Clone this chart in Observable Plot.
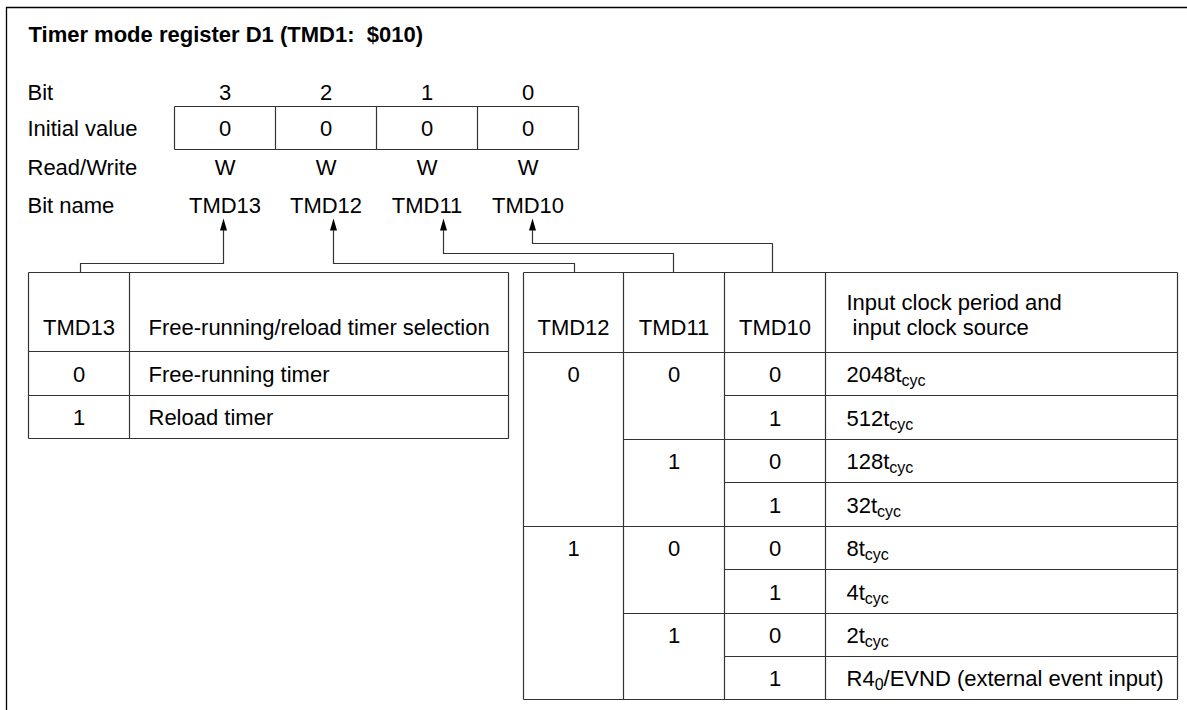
<!DOCTYPE html>
<html>
<head>
<meta charset="utf-8">
<script src="https://cdn.jsdelivr.net/npm/d3@7"></script>
<script src="https://cdn.jsdelivr.net/npm/@observablehq/plot@0.6"></script>
<style>
  html, body { margin: 0; padding: 0; background: #fff; }
  #chart svg text { white-space: pre; }
</style>
</head>
<body>
<div id="chart"></div>
<script>
// ---------------- data ----------------
const title = "Timer mode register D1 (TMD1:  $010)";
const rowLabels = ["Bit", "Initial value", "Read/Write", "Bit name"];
const bitNumbers = [3, 2, 1, 0];
const initialValues = [0, 0, 0, 0];
const readWrite = ["W", "W", "W", "W"];
const bitNames = ["TMD13", "TMD12", "TMD11", "TMD10"];

const tmd13Header = ["TMD13", "Free-running/reload timer selection"];
const tmd13Values = [0, 1];
const tmd13Meaning = ["Free-running timer", "Reload timer"];

const clockHeader = ["TMD12", "TMD11", "TMD10"];
const clockHeaderText = ["Input clock period and", " input clock source"];
const tmd12Values = [0, 0, 0, 0, 1, 1, 1, 1];
const tmd11Values = [0, 0, 1, 1, 0, 0, 1, 1];
const tmd10Values = [0, 1, 0, 1, 0, 1, 0, 1];
const clockSources = [
  "2048t_{cyc}", "512t_{cyc}", "128t_{cyc}", "32t_{cyc}",
  "8t_{cyc}", "4t_{cyc}", "2t_{cyc}", "R4_{0}/EVND (external event input)"
];

// ---------------- layout ----------------
const W = 1187, H = 710;
const L = {
  frameX: 6, frameY: 7,
  titleX: 28, titleY: 34,
  labelX: 27,
  rowY: [92, 128, 167, 205],
  boxX: [174, 275, 376, 477, 578], boxTop: 106, boxBottom: 149,
  arrowX: [223, 333, 443, 532], arrowTipY: 218, arrowLen: 12, arrowR: 3.5,
  elbowY: [263, 263, 253, 243],
  connectX: [80, 574, 673, 772],
  tableTop: 272,
  leftCols: [28, 129, 508], leftRows: [351, 395, 438],
  rightCols: [523, 623, 724, 825, 1177],
  rightRows: [352, 395, 439, 482, 526, 569, 613, 656, 699],
  headerY: 327, header2Y: 302,
  leftTextX: 148, rightTextX: 846,
  fontSize: 22, subSize: 16, subShift: 4
};
const lineColor = "#333";
const font = "'Liberation Sans', Arial, Helvetica, sans-serif";

// ---------------- derived mark data ----------------
const colCenter = i => (L.boxX[i] + L.boxX[i + 1]) / 2;
const startTexts = [];
const midTexts = [];

rowLabels.forEach((t, i) => startTexts.push({x: L.labelX, y: L.rowY[i], t}));
bitNumbers.forEach((v, i) => midTexts.push({x: colCenter(i), y: L.rowY[0], t: String(v)}));
initialValues.forEach((v, i) => midTexts.push({x: colCenter(i), y: L.rowY[1], t: String(v)}));
readWrite.forEach((v, i) => midTexts.push({x: colCenter(i), y: L.rowY[2], t: v}));
bitNames.forEach((v, i) => midTexts.push({x: colCenter(i), y: L.rowY[3], t: v}));

// left table
const lc = L.leftCols, lr = [L.tableTop, ...L.leftRows];
midTexts.push({x: (lc[0] + lc[1]) / 2, y: L.headerY, t: tmd13Header[0]});
startTexts.push({x: L.leftTextX, y: L.headerY, t: tmd13Header[1]});
tmd13Values.forEach((v, i) => {
  const yc = (lr[i + 1] + lr[i + 2]) / 2 + 1;
  midTexts.push({x: (lc[0] + lc[1]) / 2, y: yc, t: String(v)});
  startTexts.push({x: L.leftTextX, y: yc, t: tmd13Meaning[i]});
});

// right table
const rc = L.rightCols, rr = [L.tableTop, ...L.rightRows];
clockHeader.forEach((t, i) => midTexts.push({x: (rc[i] + rc[i + 1]) / 2, y: L.headerY, t}));
startTexts.push({x: L.rightTextX, y: L.header2Y, t: clockHeaderText[0]});
startTexts.push({x: L.rightTextX, y: L.headerY, t: clockHeaderText[1]});
const cols = [tmd12Values, tmd11Values, tmd10Values];
const segs = [];
clockSources.forEach((s, r) => {
  const yc = (rr[r + 1] + rr[r + 2]) / 2 + 1;
  let start = 2;
  for (let c = 0; c < 3; c++) {
    if (r === 0 || cols.slice(0, c + 1).some(col => col[r] !== col[r - 1])) { start = c; break; }
  }
  for (let c = start; c < 3; c++) midTexts.push({x: (rc[c] + rc[c + 1]) / 2, y: yc, t: String(cols[c][r])});
  startTexts.push({x: L.rightTextX, y: yc, t: s});
  if (r > 0) segs.push({x1: rc[start], x2: rc[4], y1: rr[r + 1], y2: rr[r + 1]});
});
segs.push({x1: rc[0], x2: rc[4], y1: rr[0], y2: rr[0]});
segs.push({x1: rc[0], x2: rc[4], y1: rr[1], y2: rr[1]});
segs.push({x1: rc[0], x2: rc[4], y1: rr[rr.length - 1], y2: rr[rr.length - 1]});
rc.forEach(x => segs.push({x1: x, x2: x, y1: rr[0], y2: rr[rr.length - 1]}));
lr.forEach(y => segs.push({x1: lc[0], x2: lc[2], y1: y, y2: y}));
lc.forEach(x => segs.push({x1: x, x2: x, y1: lr[0], y2: lr[lr.length - 1]}));
segs.push({x1: L.boxX[0], x2: L.boxX[4], y1: L.boxTop, y2: L.boxTop});
segs.push({x1: L.boxX[0], x2: L.boxX[4], y1: L.boxBottom, y2: L.boxBottom});
L.boxX.forEach(x => segs.push({x1: x, x2: x, y1: L.boxTop, y2: L.boxBottom}));

// connectors from tables to bit names
const paths = [];
bitNames.forEach((n, i) => {
  paths.push({id: n, x: L.connectX[i], y: L.tableTop});
  paths.push({id: n, x: L.connectX[i], y: L.elbowY[i]});
  paths.push({id: n, x: L.arrowX[i], y: L.elbowY[i]});
  paths.push({id: n, x: L.arrowX[i], y: L.arrowTipY + L.arrowLen});
});
const arrows = bitNames.map((n, i) => ({id: n, x: L.arrowX[i], y: L.arrowTipY}));

const headShape = {
  draw(context, l, r) {
    context.moveTo(0, -l);
    context.lineTo(r, 0);
    context.lineTo(-r, 0);
    context.closePath();
  }
};

const svg = Plot.plot({
  width: W, height: H, margin: 0,
  style: {fontFamily: font, fontSize: L.fontSize + "px", background: "#fff", color: "#000"},
  x: {type: "linear", domain: [0, W], range: [0, W], axis: null},
  y: {type: "linear", domain: [0, H], range: [0, H], axis: null},
  marks: [
    Plot.ruleY([L.frameY], {y: d => d, x1: L.frameX, x2: W, stroke: "#000", strokeWidth: 1.3}),
    Plot.ruleX([L.frameX], {x: d => d, y1: L.frameY, y2: H, stroke: "#000", strokeWidth: 1.3}),
    Plot.link(segs, {x1: "x1", y1: "y1", x2: "x2", y2: "y2", stroke: lineColor, strokeWidth: 1.2}),
    Plot.line(paths, {x: "x", y: "y", z: "id", stroke: lineColor, strokeWidth: 1.2, curve: "linear"}),
    Plot.vector(arrows, {x: "x", y: "y", anchor: "end", length: L.arrowLen, r: L.arrowR, shape: headShape, fill: "#000", stroke: "none"}),
    Plot.text([title], {x: () => L.titleX, y: () => L.titleY, text: d => d, textAnchor: "start", fontWeight: "bold", fontSize: L.fontSize, fontFamily: font, fill: "#000"}),
    Plot.text(startTexts, {x: "x", y: "y", text: "t", textAnchor: "start", fontSize: L.fontSize, fontFamily: font, fill: "#000"}),
    Plot.text(midTexts, {x: "x", y: "y", text: "t", textAnchor: "middle", fontSize: L.fontSize, fontFamily: font, fill: "#000"})
  ]
});

// subscripts: "_{...}" -> lowered, smaller tspan
d3.select(svg).selectAll("text").each(function () {
  const s = this.textContent;
  if (!s.includes("_{")) return;
  const parts = s.split(/(_\{[^}]*\})/).filter(p => p);
  this.textContent = "";
  let shifted = false;
  for (const p of parts) {
    const ts = d3.select(this).append("tspan");
    if (p.startsWith("_{")) {
      ts.text(p.slice(2, -1)).attr("font-size", L.subSize).attr("dy", L.subShift);
      shifted = true;
    } else {
      ts.text(p);
      if (shifted) { ts.attr("dy", -L.subShift); shifted = false; }
    }
  }
});

document.getElementById("chart").appendChild(svg);
</script>
</body>
</html>
